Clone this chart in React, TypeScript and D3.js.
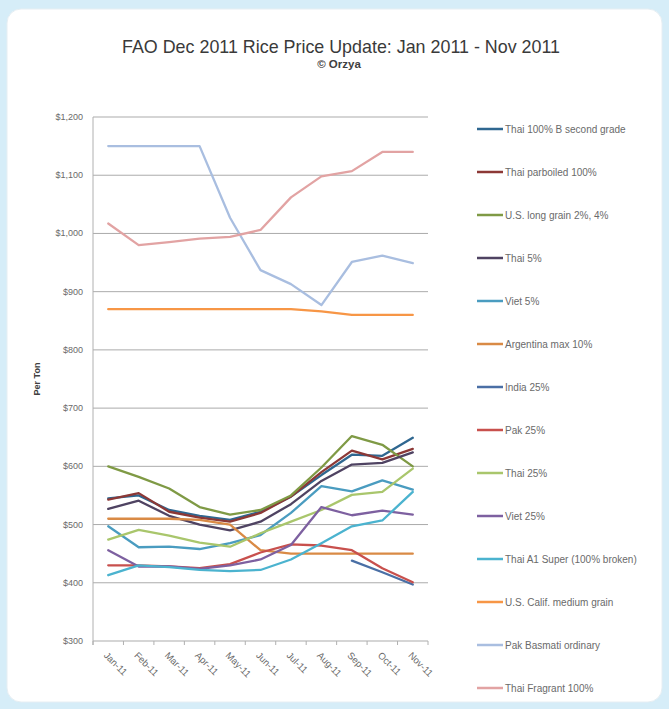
import * as d3 from 'd3';

// Jan 2011 - Nov 2011, US$ per tonne
const months = ['Jan-11', 'Feb-11', 'Mar-11', 'Apr-11', 'May-11', 'Jun-11', 'Jul-11', 'Aug-11', 'Sep-11', 'Oct-11', 'Nov-11'];
const yTicks = [300, 400, 500, 600, 700, 800, 900, 1000, 1100, 1200];

const thai100B = [545, 550, 525, 515, 508, 522, 548, 585, 620, 618, 649];
const thaiParboiled = [543, 554, 522, 512, 505, 520, 548, 590, 627, 612, 630];
const usLongGrain = [600, 582, 562, 530, 517, 525, 550, 598, 652, 637, 600];
const thai5 = [527, 541, 515, 500, 490, 505, 535, 575, 603, 606, 624];
const viet5 = [497, 461, 462, 458, 468, 482, 520, 566, 557, 576, 560];
const argentina10 = [510, 510, 510, 508, 500, 456, 450, 450, 450, 450, 450];
const india25 = [null, null, null, null, null, null, null, null, 438, 418, 397];
const pak25 = [430, 430, 428, 425, 432, 452, 466, 464, 456, 425, 401];
const thai25 = [474, 491, 481, 469, 462, 485, 505, 525, 551, 556, 596];
const viet25 = [456, 428, 428, 424, 430, 440, 465, 530, 516, 524, 517];
const thaiA1Super = [413, 430, 427, 422, 420, 422, 440, 468, 497, 507, 556];
const usCalif = [870, 870, 870, 870, 870, 870, 870, 866, 860, 860, 860];
const pakBasmati = [1150, 1150, 1150, 1150, 1027, 937, 913, 877, 951, 962, 949];
const thaiFragrant = [1017, 980, 985, 991, 994, 1006, 1062, 1098, 1107, 1140, 1140];

const seriesNames = [
  'Thai 100% B second grade',
  'Thai parboiled 100%',
  'U.S. long grain 2%, 4%',
  'Thai 5%',
  'Viet 5%',
  'Argentina max 10%',
  'India 25%',
  'Pak 25%',
  'Thai 25%',
  'Viet 25%',
  'Thai A1 Super (100% broken)',
  'U.S. Calif. medium grain',
  'Pak Basmati ordinary',
  'Thai Fragrant 100%',
];
const seriesValues = [
  thai100B, thaiParboiled, usLongGrain, thai5, viet5, argentina10, india25,
  pak25, thai25, viet25, thaiA1Super, usCalif, pakBasmati, thaiFragrant,
];
const seriesColors = [
  '#2f6790', '#8c3836', '#7f9a45', '#4f4362', '#4a9cc0', '#d98a45', '#4a6fa5',
  '#c8504d', '#a9c66c', '#7d60a0', '#4bb3cf', '#f79646', '#a9bee0', '#e2a3a3',
];

const series = seriesNames.map((name, i) => ({ name, values: seriesValues[i], color: seriesColors[i] }));

const W = 669;
const H = 709;
const plot = { left: 93, right: 428, top: 117, bottom: 641 };
const font = "'Liberation Sans', Arial, sans-serif";

export default function App() {
  const x = d3.scaleBand<string>().domain(months).range([plot.left, plot.right]);
  const y = d3.scaleLinear().domain([300, 1200]).range([plot.bottom, plot.top]);
  const cx = (m: string) => (x(m) ?? 0) + x.bandwidth() / 2;
  const fmt = d3.format('$,.0f');

  const line = d3
    .line<number | null>()
    .defined((d) => d != null)
    .x((_, i) => cx(months[i]))
    .y((d) => y(d as number));

  const legendY = d3.scalePoint<number>().domain(d3.range(series.length)).range([129, 688]);

  return (
    <svg width={W} height={H} style={{ position: 'absolute', left: 0, top: 0 }}>
      <rect x={0} y={0} width={W} height={H} fill="#d6edf8" />
      <rect x={7} y={9} width={655} height={693} rx={14} fill="#ffffff" stroke="#e6eef3" />

      <text
        x={341}
        y={53}
        textAnchor="middle"
        fontFamily={font}
        fontSize={19}
        fill="#3a3a3a"
        textLength={438}
        lengthAdjust="spacingAndGlyphs"
      >
        FAO Dec 2011 Rice Price Update: Jan 2011 - Nov 2011
      </text>
      <text x={339} y={68} textAnchor="middle" fontFamily={font} fontSize={11.5} fontWeight="bold" fill="#404040">
        © Orzya
      </text>

      {/* gridlines + y labels */}
      {yTicks.map((t) => (
        <g key={t}>
          <line x1={plot.left} x2={plot.right} y1={y(t)} y2={y(t)} stroke="#ababab" strokeWidth={1} />
          <text x={83} y={y(t) + 3} textAnchor="end" fontFamily={font} fontSize={9} fill="#6a6a6a">
            {fmt(t)}
          </text>
        </g>
      ))}
      <line x1={plot.left} x2={plot.left} y1={plot.top} y2={plot.bottom + 4} stroke="#b0b0b0" />
      {d3.range(months.length + 1).map((i) => {
        const xx = plot.left + i * x.step();
        return <line key={i} x1={xx} x2={xx} y1={plot.bottom} y2={plot.bottom + 4} stroke="#b0b0b0" />;
      })}

      <text
        transform={`translate(40,${(plot.top + plot.bottom) / 2}) rotate(-90)`}
        textAnchor="middle"
        fontFamily={font}
        fontSize={9}
        fontWeight="bold"
        fill="#404040"
      >
        Per Ton
      </text>

      {/* x labels */}
      {months.map((m) => (
        <text
          key={m}
          transform={`translate(${cx(m) - 5},${plot.bottom + 15}) rotate(45)`}
          fontFamily={font}
          fontSize={9.5}
          fill="#6a6a6a"
        >
          {m}
        </text>
      ))}

      {/* series */}
      {series.map((s) => (
        <path
          key={s.name}
          d={line(s.values) ?? ''}
          fill="none"
          stroke={s.color}
          strokeWidth={2.3}
          strokeLinejoin="round"
          strokeLinecap="round"
        />
      ))}

      {/* legend */}
      {series.map((s, i) => (
        <g key={s.name} transform={`translate(477,${legendY(i)})`}>
          <line x1={0} x2={26} y1={0} y2={0} stroke={s.color} strokeWidth={2.5} />
          <text x={28} y={3.5} fontFamily={font} fontSize={10} fill="#6a6a6a">
            {s.name}
          </text>
        </g>
      ))}
    </svg>
  );
}
